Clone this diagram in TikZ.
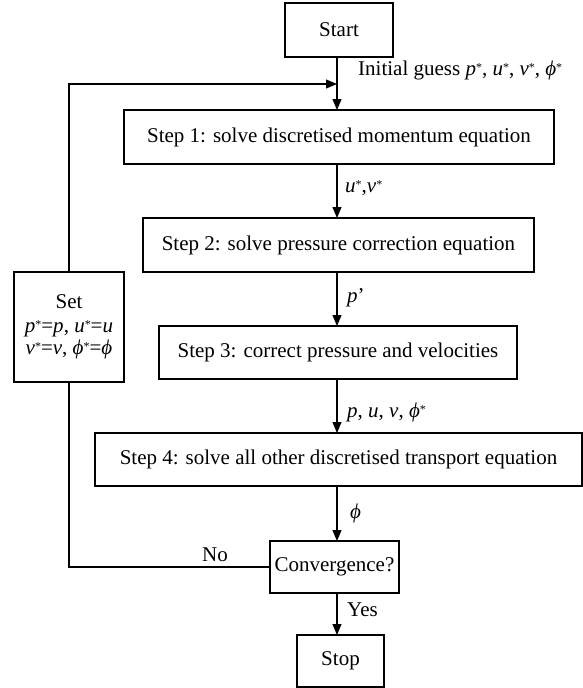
\documentclass[tikz,border=0pt]{standalone}
\usepackage{fontspec}
\setmainfont{Liberation Serif}
\usetikzlibrary{arrows.meta}
\newcommand{\iv}[1]{\textit{#1}}
\newcommand{\st}{\raisebox{4pt}{\fontsize{12}{12}\selectfont *}}
\begin{document}
\begin{tikzpicture}[x=1pt,y=-1pt,
  box/.style={draw,line width=1.1pt,inner sep=0pt,font=\fontsize{21}{24}\selectfont},
  lbl/.style={font=\fontsize{21}{24}\selectfont,inner sep=0pt},
  arr/.style={line width=1.1pt,-{Triangle[length=11pt,width=9pt]}},
  ln/.style={line width=1.1pt}]
\useasboundingbox (0,0) rectangle (583,688);
\node[box,minimum width=108pt,minimum height=54pt] (start) at (339,30) {Start};
\node[box,minimum width=430pt,minimum height=54pt] (s1) at (339,137) {Step 1: solve discretised momentum equation};
\node[box,minimum width=391pt,minimum height=54pt] (s2) at (338.5,245) {Step 2: solve pressure correction equation};
\node[box,minimum width=358pt,minimum height=53pt] (s3) at (338,352.5) {Step 3: correct pressure and velocities};
\node[box,minimum width=487pt,minimum height=53pt] (s4) at (338.5,459.5) {Step 4: solve all other discretised transport equation};
\node[box,minimum width=129pt,minimum height=52pt] (conv) at (334.5,567) {Convergence?};
\node[box,minimum width=87pt,minimum height=52pt] (stop) at (340.5,661) {Stop};
\node[box,minimum width=110pt,minimum height=110pt,align=center,font=\fontsize{21}{21}\selectfont] (set) at (69,327)
  {Set\\[3pt] \iv{p}\st=\iv{p}, \iv{u}\st=\iv{u}\\[1pt] \iv{v}\st=\iv{v}, \iv{ϕ}\st=\iv{ϕ}};
\coordinate (top) at (337,84);
\coordinate (tl) at (69,84);
\coordinate (bl) at (69,567);
\draw[ln] (337,57) -- (top);
\draw[arr] (top) -- (337,110);
\draw[arr] (set.north) -- (tl) -- (top);
\draw[ln] (conv.west) -- (bl) -- (set.south);
\draw[arr] (337,164) -- (337,218);
\draw[arr] (337,272) -- (337,326);
\draw[arr] (337,379) -- (337,433);
\draw[arr] (337,486) -- (337,541);
\draw[arr] (337,593) -- (337,635);
\node[lbl,anchor=west] (l0) at (358,70) {Initial guess \iv{p}\st, \iv{u}\st, \iv{v}\st, \iv{ϕ}\st};
\node[lbl,anchor=west] (l1) at (345,188) {\iv{u}\st,\iv{v}\st};
\node[lbl,anchor=west] (l2) at (347,298) {\iv{p}’};
\node[lbl,anchor=west] (l3) at (347,412) {\iv{p}, \iv{u}, \iv{v}, \iv{ϕ}\st};
\node[lbl,anchor=west] (l4) at (350,513) {\iv{ϕ}};
\node[lbl] (no) at (215,555) {No};
\node[lbl,anchor=west] (yes) at (347,610) {Yes};
\end{tikzpicture}
\end{document}
